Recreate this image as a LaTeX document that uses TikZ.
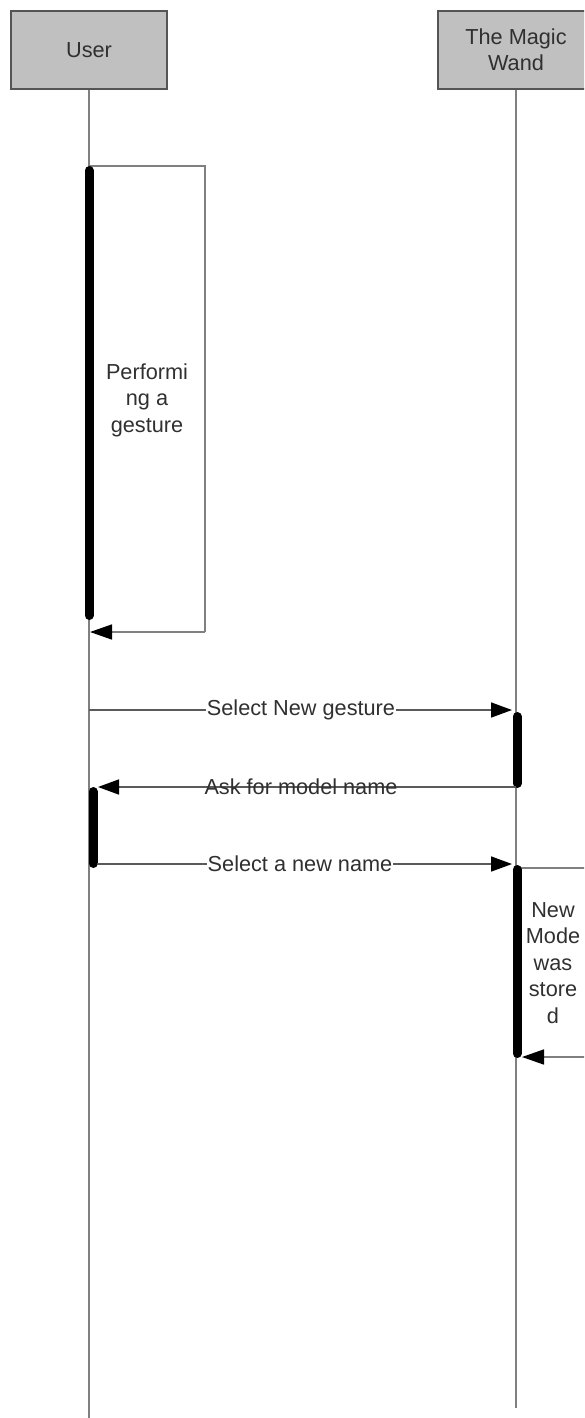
\documentclass[tikz,border=0pt]{standalone}
\usepackage{fontspec}
\setmainfont{Liberation Sans}
\usetikzlibrary{arrows.meta}
\definecolor{boxfill}{HTML}{C0C0C0}
\definecolor{boxborder}{HTML}{555555}
\definecolor{lifegray}{HTML}{808080}
\definecolor{msggray}{HTML}{5A5A5A}
\definecolor{txt}{HTML}{303030}
\begin{document}
\begin{tikzpicture}[x=1pt,y=-1pt,
  actor/.style={draw=boxborder,line width=2pt,fill=boxfill,text=txt,minimum width=156pt,minimum height=78pt,align=center,inner sep=0pt,font=\fontsize{21.7}{26}\selectfont},
  life/.style={draw=lifegray,line width=1.6pt},
  bar/.style={draw=black,line width=9pt,line cap=round},
  msg/.style={draw=msggray,line width=1.6pt,-{Triangle[length=21pt,width=15pt,color=black]}},
  loopline/.style={draw=lifegray,line width=1.6pt},
  looparrow/.style={draw=lifegray,line width=1.6pt,-{Triangle[length=22pt,width=15pt,color=black]}},
  lbl/.style={text=txt,inner sep=1pt,font=\fontsize{21.7}{26}\selectfont},
  looptext/.style={text=txt,inner sep=0pt,align=center,font=\fontsize{21.7}{26.5}\selectfont}
]
\useasboundingbox (0,0) rectangle (584,1418);
\clip (0,0) rectangle (584,1418);

% actors
\node[actor] (user) at (89,50) {User};
\node[actor] (wand) at (516,50) {The Magic\\Wand};

% lifeline ends
\coordinate (uend) at (89,1418);
\coordinate (wend) at (516,1408);
\draw[life] (user.south) -- (uend);
\draw[life] (wand.south) -- (wend);

% user self loop
\coordinate (ul0) at (89,166);
\coordinate (ul1) at (205,166);
\coordinate (ul2) at (205,632);
\coordinate (ul3) at (90,632);
\draw[loopline] (ul0) -- (ul1) -- (ul2);
\draw[looparrow] (ul2) -- (ul3);
\coordinate (ub1t) at (89,170.5);
\coordinate (ub1b) at (89,615.5);
\draw[bar] (ub1t) -- (ub1b);
\node[looptext] (perf) at (147,400) {Performi\\ng a\\gesture};

% message 1
\coordinate (m1s) at (89,710);
\coordinate (m1e) at (512,710);
\draw[msg] (m1s) -- (m1e);
\node[lbl,fill=white] (m1l) at (301,710) {Select New gesture};
\coordinate (wb1t) at (517,716.5);
\coordinate (wb1b) at (517,783.5);
\draw[bar] (wb1t) -- (wb1b);

% message 2
\coordinate (m2s) at (516,787);
\coordinate (m2e) at (98,787);
\draw[msg] (m2s) -- (m2e);
\coordinate (ub2t) at (93,791.5);
\coordinate (ub2b) at (93,863.5);
\draw[bar] (ub2t) -- (ub2b);
\node[lbl] (m2l) at (301,787) {Ask for model name};

% message 3
\coordinate (m3s) at (97,864);
\coordinate (m3e) at (512,864);
\draw[msg] (m3s) -- (m3e);
\node[lbl,fill=white] (m3l) at (300,864) {Select a new name};

% wand self loop
\coordinate (wl0) at (517,868);
\coordinate (wl1) at (600,868);
\coordinate (wl2) at (600,1057);
\coordinate (wl3) at (522,1057);
\draw[loopline] (wl0) -- (wl1) -- (wl2);
\draw[looparrow] (wl2) -- (wl3);
\coordinate (wb2t) at (517,869.5);
\coordinate (wb2b) at (517,1053.5);
\draw[bar] (wb2t) -- (wb2b);
\node[looptext] (stored) at (553,963) {New\\Mode\\was\\store\\d};
\end{tikzpicture}
\end{document}
